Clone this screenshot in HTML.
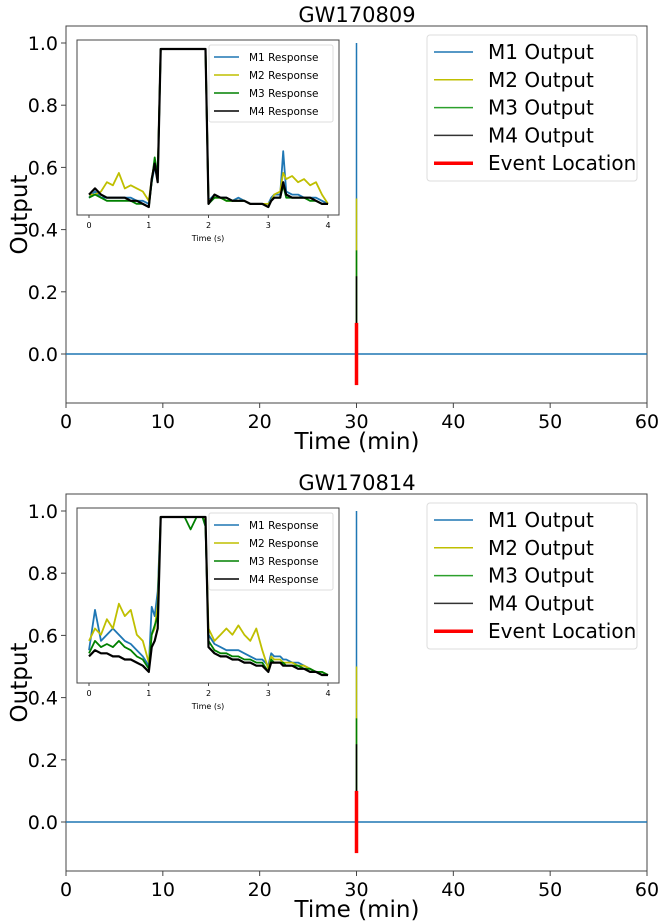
<!DOCTYPE html>
<html><head><meta charset="utf-8">
<style>
html,body{margin:0;padding:0;background:#fff;}
svg{display:block;font-family:"DejaVu Sans","Liberation Sans",sans-serif;}
</style></head>
<body>
<svg id="chart" width="661" height="924" viewBox="0 0 661 924"></svg>
<script>
// ---- data ----
const panelTitles = ["GW170809", "GW170814"];
const mainXTicks = [0, 10, 20, 30, 40, 50, 60];
const mainYTicks = [0.0, 0.2, 0.4, 0.6, 0.8, 1.0];
const eventMinute = 30;
const outputLevels = [1.0, 0.5, 0.3333, 0.25];
const eventRange = [-0.1, 0.1];
const insetXTicks = [0, 1, 2, 3, 4];
const insetTime = [0,0.1,0.2,0.3,0.4,0.5,0.6,0.7,0.8,0.9,1.0,1.05,1.1,1.15,1.2,1.3,1.4,1.5,1.6,1.7,1.8,1.9,1.95,2.0,2.1,2.2,2.3,2.4,2.5,2.6,2.7,2.8,2.9,3.0,3.05,3.1,3.2,3.25,3.3,3.4,3.5,3.6,3.7,3.8,3.9,4.0];
// panel 1 (GW170809)
const p1M1 = [0.50,0.52,0.50,0.50,0.50,0.50,0.50,0.50,0.49,0.49,0.48,0.55,0.60,0.56,0.98,0.98,0.98,0.98,0.98,0.98,0.98,0.98,0.98,0.49,0.51,0.50,0.50,0.49,0.50,0.49,0.48,0.48,0.48,0.48,0.50,0.51,0.51,0.65,0.52,0.51,0.51,0.50,0.50,0.50,0.49,0.48];
const p1M2 = [0.51,0.51,0.52,0.55,0.54,0.58,0.53,0.54,0.53,0.52,0.49,0.56,0.62,0.57,0.98,0.98,0.98,0.98,0.98,0.98,0.98,0.98,0.98,0.49,0.50,0.50,0.49,0.49,0.49,0.49,0.48,0.48,0.48,0.48,0.49,0.51,0.52,0.58,0.56,0.57,0.55,0.56,0.54,0.55,0.51,0.48];
const p1M3 = [0.50,0.51,0.50,0.49,0.49,0.49,0.49,0.49,0.48,0.48,0.47,0.55,0.63,0.57,0.98,0.98,0.98,0.98,0.98,0.98,0.98,0.98,0.98,0.48,0.50,0.50,0.49,0.49,0.49,0.49,0.48,0.48,0.48,0.47,0.49,0.50,0.50,0.54,0.50,0.50,0.50,0.50,0.49,0.49,0.48,0.48];
const p1M4 = [0.51,0.53,0.51,0.50,0.50,0.50,0.50,0.49,0.49,0.48,0.47,0.56,0.61,0.55,0.98,0.98,0.98,0.98,0.98,0.98,0.98,0.98,0.98,0.48,0.51,0.50,0.50,0.49,0.49,0.49,0.48,0.48,0.48,0.47,0.49,0.50,0.50,0.55,0.51,0.50,0.50,0.50,0.50,0.49,0.48,0.48];
// panel 2 (GW170814)
const p2M1 = [0.55,0.68,0.58,0.60,0.62,0.60,0.58,0.57,0.55,0.53,0.50,0.69,0.66,0.74,0.98,0.98,0.98,0.98,0.98,0.98,0.98,0.98,0.95,0.60,0.57,0.56,0.55,0.55,0.55,0.54,0.53,0.52,0.52,0.50,0.54,0.53,0.53,0.52,0.52,0.51,0.51,0.50,0.49,0.48,0.48,0.47];
const p2M2 = [0.58,0.62,0.60,0.65,0.62,0.70,0.66,0.68,0.60,0.58,0.51,0.60,0.62,0.70,0.98,0.98,0.98,0.98,0.98,0.98,0.98,0.98,0.96,0.62,0.58,0.60,0.62,0.60,0.63,0.60,0.58,0.62,0.55,0.49,0.53,0.52,0.52,0.51,0.51,0.51,0.50,0.50,0.49,0.48,0.48,0.47];
const p2M3 = [0.54,0.58,0.56,0.57,0.56,0.58,0.56,0.55,0.53,0.52,0.49,0.60,0.63,0.66,0.98,0.98,0.98,0.98,0.98,0.94,0.98,0.98,0.95,0.58,0.55,0.54,0.54,0.53,0.53,0.52,0.52,0.51,0.51,0.48,0.52,0.51,0.51,0.51,0.50,0.50,0.50,0.49,0.49,0.48,0.48,0.47];
const p2M4 = [0.53,0.55,0.54,0.54,0.53,0.53,0.52,0.52,0.51,0.50,0.48,0.56,0.58,0.62,0.98,0.98,0.98,0.98,0.98,0.98,0.98,0.98,0.98,0.56,0.54,0.53,0.53,0.52,0.52,0.51,0.51,0.50,0.50,0.48,0.51,0.51,0.51,0.50,0.50,0.50,0.49,0.49,0.48,0.48,0.47,0.47];
const seriesNames = ["M1", "M2", "M3", "M4"];
const seriesColors = ["#1f77b4", "#bfbf00", "#008000", "#000000"];
const legendColors = ["#1f77b4", "#bfbf00", "#2ca02c", "#333333"];
const panelSeries = [[p1M1, p1M2, p1M3, p1M4], [p2M1, p2M2, p2M3, p2M4]];

const NS = "http://www.w3.org/2000/svg";
const svg = document.getElementById("chart");
function mk(tag, attrs, parent) {
  const e = document.createElementNS(NS, tag);
  for (const k in attrs) e.setAttribute(k, attrs[k]);
  (parent || svg).appendChild(e);
  return e;
}

panelTitles.forEach((title, p) => {
  const off = p * 468;
  const g = mk("g", {});
  
  
  const L = 66, R = 647, T = 26 + off, B = 403 + off;
  const xS = v => L + (v - 0) / 60 * (R - L);
  const yS = v => (354 + off) - v * 311;

  const t = mk("text", {x: 357, y: 22 + off, "text-anchor": "middle", "font-size": 21, fill: "#000"}, g);
  t.textContent = title;
  
  

  const fr = mk("rect", {x: L, y: T, width: R - L, height: B - T, fill: "none", stroke: "#444", "stroke-width": 1}, g);
  
  

  mainXTicks.forEach(v => {
    const x = xS(v);
    mk("line", {x1: x, x2: x, y1: B, y2: B + 5, stroke: "#444"}, g);
    const tx = mk("text", {x: x, y: B + 25, "text-anchor": "middle", "font-size": 19}, g);
    tx.textContent = v;
    
    
  });
  mainYTicks.forEach(v => {
    const y = yS(v);
    mk("line", {x1: L - 5, x2: L, y1: y, y2: y, stroke: "#444"}, g);
    const ty = mk("text", {x: L - 8, y: y + 7, "text-anchor": "end", "font-size": 19}, g);
    ty.textContent = v.toFixed(1);
    
    
  });
  const xl = mk("text", {x: 357, y: B + 46, "text-anchor": "middle", "font-size": 23}, g);
  xl.textContent = "Time (min)";
  
  
  const yl = mk("text", {x: 0, y: 0, "text-anchor": "middle", "font-size": 23, transform: `translate(27,${(T + B) / 2}) rotate(-90)`}, g);
  yl.textContent = "Output";
  
  

  const hl = mk("line", {x1: L, x2: R, y1: yS(0), y2: yS(0), stroke: "#1f77b4", "stroke-width": 1.5}, g);
  
  
  outputLevels.forEach((lv, i) => {
    const vl = mk("line", {x1: xS(eventMinute), x2: xS(eventMinute), y1: yS(0), y2: yS(lv), stroke: seriesColors[i], "stroke-width": 1.5}, g);
    
    
  });
  const ev = mk("line", {x1: xS(eventMinute), x2: xS(eventMinute), y1: yS(eventRange[0]), y2: yS(eventRange[1]), stroke: "#ff0000", "stroke-width": 3.5}, g);
  
  

  const lg = mk("g", {}, g);
  
  
  mk("rect", {x: 427, y: 35 + off, width: 210, height: 146, rx: 3, fill: "#fff", stroke: "#ddd"}, lg);
  const labels = ["M1 Output", "M2 Output", "M3 Output", "M4 Output", "Event Location"];
  const lc = legendColors.concat(["#ff0000"]);
  labels.forEach((lb, i) => {
    const y = 52 + i * 27.8 + off;
    mk("line", {x1: 434, x2: 473, y1: y, y2: y, stroke: lc[i], "stroke-width": i === 4 ? 3.5 : 1.5}, lg);
    const lt = mk("text", {x: 488, y: y + 7, "font-size": 20}, lg);
    lt.textContent = lb;
    
    
  });

  const iL = 77, iR = 339, iT = 40 + off, iB = 215 + off;
  const ixS = v => 89 + v / 4 * (328 - 89);
  const iyS = v => (207 + off) - (v - 0.47) / 0.51 * 158;
  const ig = mk("g", {}, g);
  
  
  mk("rect", {x: iL, y: iT, width: iR - iL, height: iB - iT, fill: "#fff", stroke: "#444", "stroke-width": 1}, ig);
  insetXTicks.forEach(v => {
    const x = ixS(v);
    mk("line", {x1: x, x2: x, y1: iB, y2: iB + 3, stroke: "#444"}, ig);
    const it = mk("text", {x: x, y: iB + 13, "text-anchor": "middle", "font-size": 8}, ig);
    it.textContent = v;
    
    
  });
  const ixl = mk("text", {x: 208, y: iB + 26, "text-anchor": "middle", "font-size": 8}, ig);
  ixl.textContent = "Time (s)";
  
  
  panelSeries[p].forEach((vals, i) => {
    const d = vals.map((v, k) => (k ? "L" : "M") + ixS(insetTime[k]).toFixed(1) + "," + iyS(v).toFixed(1)).join(" ");
    const pl = mk("path", {d: d, fill: "none", stroke: seriesColors[i], "stroke-width": i === 3 ? 2.2 : 1.8, "stroke-linejoin": "round"}, ig);
    
    
  });
  const ilg = mk("g", {}, ig);
  
  
  mk("rect", {x: 209, y: 45 + off, width: 124, height: 77, rx: 2, fill: "#fff", "fill-opacity": 0.85, stroke: "#ddd"}, ilg);
  seriesNames.forEach((nm, i) => {
    const y = 57 + i * 18 + off;
    mk("line", {x1: 214, x2: 239, y1: y, y2: y, stroke: seriesColors[i], "stroke-width": 1.5}, ilg);
    const tt = mk("text", {x: 249, y: y + 4, "font-size": 10.5}, ilg);
    tt.textContent = nm + " Response";
    
    
  });
});
</script>
</body></html>
